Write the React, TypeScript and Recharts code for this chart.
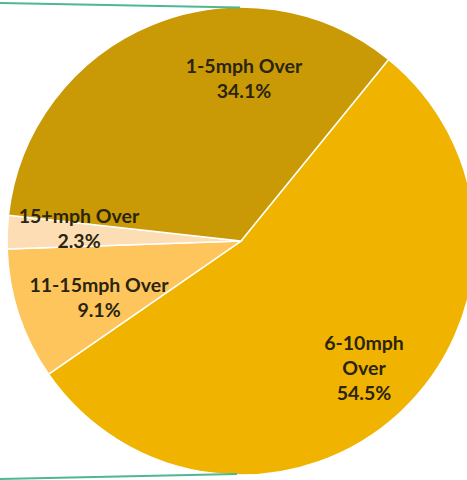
import { PieChart, Pie, Cell } from "recharts";

const categories = ["6-10mph Over", "11-15mph Over", "15+mph Over", "1-5mph Over"];
const shares = [54.5, 9.1, 2.3, 34.1];
const shareLabels = ["54.5%", "9.1%", "2.3%", "34.1%"];
const sliceColors = ["#F0B400", "#FEC55C", "#FDDDB4", "#C99A05"];

// label lines per slice (Excel wraps the big one)
const labelLines = [["6-10mph", "Over"], ["11-15mph Over"], ["15+mph Over"], ["1-5mph Over"]];
// label block centre, offset from pie centre
const labelOffsets = [
  { dx: 123, dy: 126 },
  { dx: -142, dy: 55 },
  { dx: -162, dy: -14 },
  { dx: 3, dy: -164 },
];

const data = categories.map((name, i) => ({ name, value: shares[i], pct: shareLabels[i] }));

const renderLabel = (props: any) => {
  const { cx, cy, index } = props;
  const lines = [...labelLines[index], shareLabels[index]];
  const off = labelOffsets[index];
  const lh = 25;
  const top = cy + off.dy - ((lines.length - 1) * lh) / 2;
  return (
    <text
      x={cx + off.dx}
      y={top}
      textAnchor="middle"
      dominantBaseline="central"
      fill="#2a2410"
      fontFamily="Lato, 'Open Sans', sans-serif"
      fontWeight="bold"
      fontSize={19.5}
    >
      {lines.map((t, j) => (
        <tspan key={j} x={cx + off.dx} y={top + j * lh}>
          {t}
        </tspan>
      ))}
    </text>
  );
};

export default function App() {
  return (
    <div style={{ position: "fixed", left: 0, top: 0, width: 467, height: 480, background: "#fff", overflow: "hidden" }}>
      <PieChart width={467} height={480} margin={{ top: 0, right: 0, bottom: 0, left: 0 }}>
        <Pie
          data={data}
          dataKey="value"
          nameKey="name"
          cx={241}
          cy={241}
          outerRadius={234}
          startAngle={50.9}
          endAngle={-309.1}
          stroke="#ffffff"
          strokeWidth={1.5}
          label={renderLabel}
          labelLine={false}
          isAnimationActive={false}
        >
          {data.map((d, i) => (
            <Cell key={d.name} fill={sliceColors[i]} />
          ))}
        </Pie>
      </PieChart>
      {/* connector lines to the (cropped) second pie */}
      <svg width={467} height={480} style={{ position: "absolute", left: 0, top: 0, pointerEvents: "none" }}>
        <line x1={0} y1={3} x2={240} y2={7.5} stroke="#4DB894" strokeWidth={2} />
        <line x1={0} y1={479} x2={237} y2={474} stroke="#4DB894" strokeWidth={2} />
      </svg>
    </div>
  );
}
